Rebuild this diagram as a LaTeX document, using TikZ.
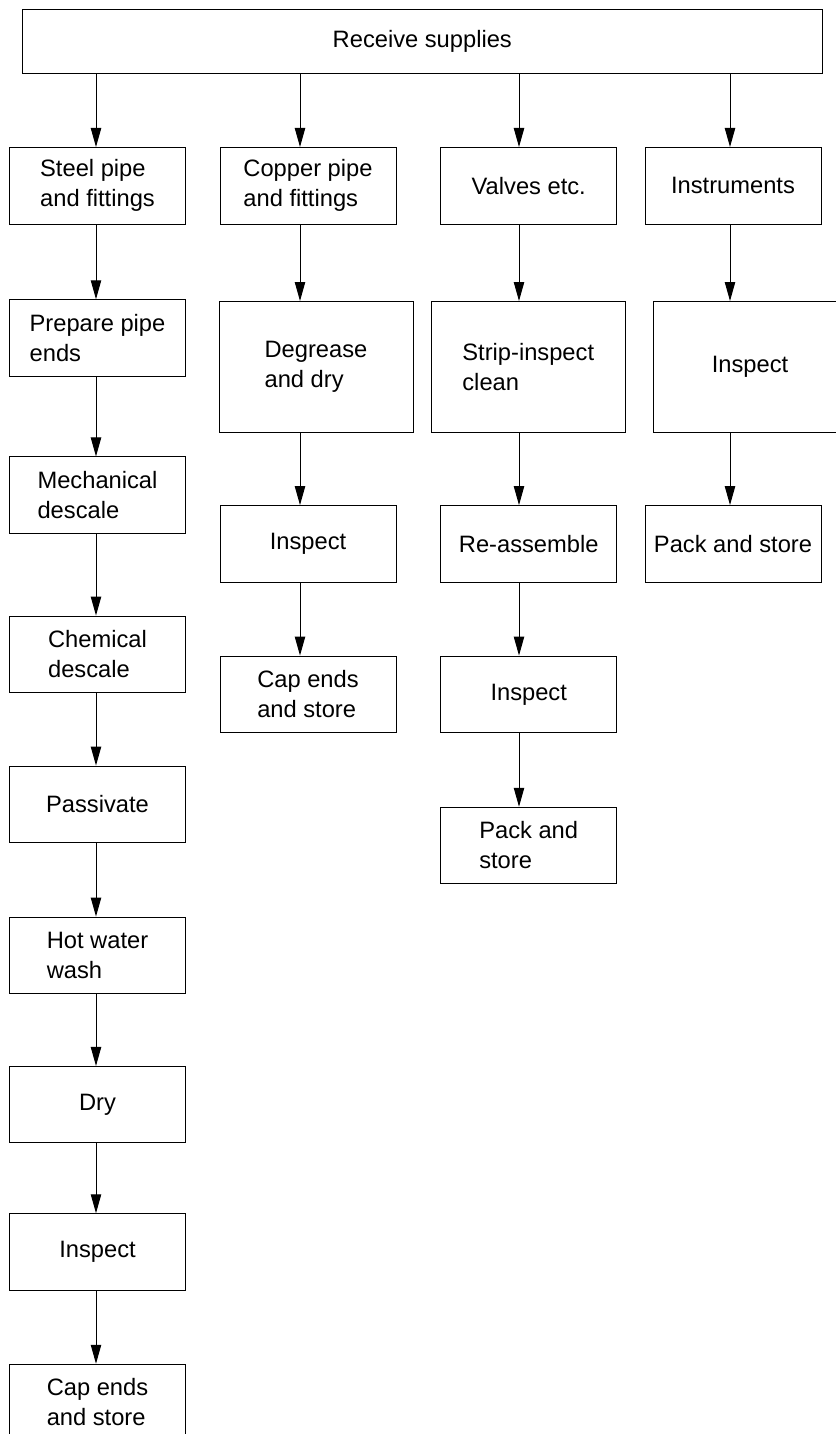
\documentclass[tikz,border=0pt]{standalone}
\usepackage{fontspec}
\setmainfont{Liberation Sans}
\usepackage{tikz}
\usetikzlibrary{arrows.meta}
\usetikzlibrary{calc}

\tikzset{
	stage/.style={draw, rectangle, line width=0.5pt, minimum width=88pt, minimum height=38.25pt, align=left, inner sep=2pt},
	bigstage/.style={stage, minimum width=97pt, minimum height=65.4pt}
}

\begin{document}
\begin{tikzpicture}[x=0.5pt, y=-0.5pt, >={Triangle[length=9.5pt,width=5.2pt]}, line width=0.5pt, font=\fontsize{11.85}{15}\selectfont]
	
	\useasboundingbox (0,0) rectangle (835,1434);
	
	\coordinate (c1) at (96,0);
	
	\coordinate (c2) at (300,0);
	
	\coordinate (c3) at (519,0);
	
	\coordinate (c4) at (730,0);
	
	\node [stage, minimum width=400pt, minimum height=32pt] (recv) at (422.3,41.3) {Receive supplies};
	
	\node [stage] (steel) at (97.5,185.75) {Steel pipe\\and fittings};
	
	\node [stage] (prep) at (97.5,338) {Prepare pipe\\ends};
	
	\node [stage] (mech) at (97.5,495.2) {Mechanical\\descale};
	
	\node [stage] (chem) at (97.5,654.3) {Chemical\\descale};
	
	\node [stage] (pass) at (97.5,804.3) {Passivate};
	
	\node [stage] (wash) at (97.5,955.3) {Hot water\\wash};
	
	\node [stage] (dry) at (97.5,1104.7) {Dry};
	
	\node [stage] (steelinsp) at (97.5,1252) {Inspect};
	
	\node [stage] (steelcap) at (97.5,1402.5) {Cap ends\\and store};
	
	\node [stage] (copper) at (308,185.75) {Copper pipe\\and fittings};
	
	\node [bigstage] (degr) at (316,366.9) {Degrease\\and dry};
	
	\node [stage] (copinsp) at (308,543.85) {Inspect};
	
	\node [stage] (copcap) at (308,694.3) {Cap ends\\and store};
	
	\node [stage] (valves) at (528.75,185.75) {Valves etc.};
	
	\node [bigstage] (strip) at (528.25,366.9) {Strip-inspect\\clean};
	
	\node [stage] (reasm) at (528.7,543.85) {Re-assemble};
	
	\node [stage] (valinsp) at (528.7,694.3) {Inspect};
	
	\node [stage] (valpack) at (528.7,845.5) {Pack and\\store};
	
	\node [stage] (instr) at (733,185.75) {Instruments};
	
	\node [bigstage] (instinsp) at (750,366.9) {Inspect};
	
	\node [stage] (instpack) at (733,543.85) {Pack and store};
	
	\draw [->] (recv.south -| c1) -- (steel.north -| c1);
	
	\draw [->] (recv.south -| c2) -- (copper.north -| c2);
	
	\draw [->] (recv.south -| c3) -- (valves.north -| c3);
	
	\draw [->] (recv.south -| c4) -- (instr.north -| c4);
	
	\draw [->] (steel.south -| c1) -- (prep.north -| c1);
	
	\draw [->] (prep.south -| c1) -- (mech.north -| c1);
	
	\draw [->] (mech.south -| c1) -- (chem.north -| c1);
	
	\draw [->] (chem.south -| c1) -- (pass.north -| c1);
	
	\draw [->] (pass.south -| c1) -- (wash.north -| c1);
	
	\draw [->] (wash.south -| c1) -- (dry.north -| c1);
	
	\draw [->] (dry.south -| c1) -- (steelinsp.north -| c1);
	
	\draw [->] (steelinsp.south -| c1) -- (steelcap.north -| c1);
	
	\draw [->] (copper.south -| c2) -- (degr.north -| c2);
	
	\draw [->] (degr.south -| c2) -- (copinsp.north -| c2);
	
	\draw [->] (copinsp.south -| c2) -- (copcap.north -| c2);
	
	\draw [->] (valves.south -| c3) -- (strip.north -| c3);
	
	\draw [->] (strip.south -| c3) -- (reasm.north -| c3);
	
	\draw [->] (reasm.south -| c3) -- (valinsp.north -| c3);
	
	\draw [->] (valinsp.south -| c3) -- (valpack.north -| c3);
	
	\draw [->] (instr.south -| c4) -- (instinsp.north -| c4);
	
	\draw [->] (instinsp.south -| c4) -- (instpack.north -| c4);
	
\end{tikzpicture}
\end{document}
